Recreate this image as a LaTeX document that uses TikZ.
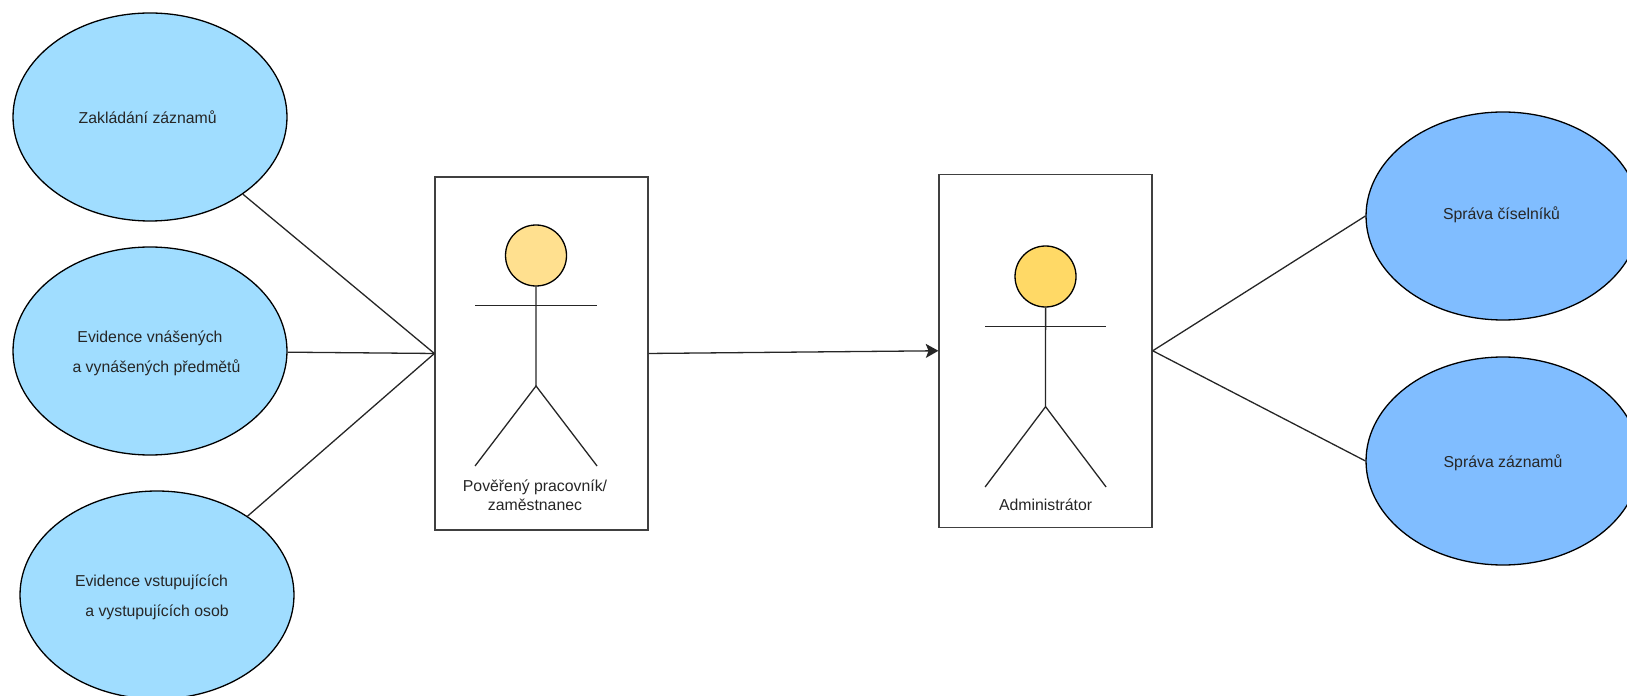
\documentclass[tikz,border=0pt]{standalone}
\usepackage{fontspec}
\setmainfont{Liberation Sans}
\usepackage{tikz}
\usetikzlibrary{arrows,arrows.meta,%
                shapes,positioning}
\definecolor{usecaseL}{HTML}{A0DDFF}
\definecolor{usecaseR}{HTML}{80BDFF}
\definecolor{headP}{HTML}{FFE08F}
\definecolor{headR}{HTML}{FFD966}
\newcommand{\lowerline}{\rule{0pt}{4.8pt}}
\tikzset{
  usecase/.style={ellipse,draw,line width=0.37pt,inner sep=0pt,align=center,text=black!85,
    minimum width=2.74cm,minimum height=2.08cm,font=\fontsize{4.5}{8.5}\selectfont},
  actorbox/.style={rectangle,draw=black!75,line width=0.37pt,minimum width=2.13cm,minimum height=3.53cm},
  head/.style={circle,draw,line width=0.37pt,minimum size=0.61cm,inner sep=0pt},
  caption/.style={inner sep=0pt,align=center,text=black!85,font=\fontsize{4.5}{5.4}\selectfont},
  link/.style={line width=0.37pt,black!85},
}

\begin{document}
\begin{tikzpicture}[scale=0.1]
\useasboundingbox (0,0) rectangle (162.7,69.5);
%use cases
\node[usecase,fill=usecaseL] (A) at (15.0,57.8) {Zakládání záznamů\hspace*{0.046cm}};
\node[usecase,fill=usecaseL] (B) at (15.0,34.4) {\lowerline Evidence vnášených\\\hspace*{0.13cm}a vynášených předmětů};
\node[usecase,fill=usecaseL] (C) at (15.7,10.0) {\lowerline Evidence vstupujících\hspace*{0.11cm}\\a vystupujících osob};
\node[usecase,fill=usecaseR] (D) at (150.3,47.9) {\raisebox{0.06cm}{Správa číselníků}\hspace*{0.03cm}};
\node[usecase,fill=usecaseR] (E) at (150.3,23.4) {\lowerline Správa záznamů};
%actor boxes
\node[actorbox] (P) at (54.15,34.15) {};
\node[actorbox] (R) at (104.55,34.42) {};
%first actor
\node[head,fill=headP] (HP) at (53.6,43.95) {};
\coordinate (HipP) at (53.6,30.9);
\coordinate (ArmPa) at (47.5,38.96);
\coordinate (ArmPb) at (59.7,38.96);
\coordinate (FootPa) at (47.5,22.9);
\coordinate (FootPb) at (59.7,22.9);
\draw[link] (HP) -- (HipP);
\draw[link] (ArmPa) -- (ArmPb);
\draw[link] (FootPa) -- (HipP) -- (FootPb);
\node[caption] (LP) at (53.5,20.0) {Pověřený pracovník/\\zaměstnanec};
%second actor
\node[head,fill=headR] (HR) at (104.55,41.85) {};
\coordinate (HipR) at (104.55,28.83);
\coordinate (ArmRa) at (98.5,36.83);
\coordinate (ArmRb) at (110.6,36.83);
\coordinate (FootRa) at (98.5,20.8);
\coordinate (FootRb) at (110.6,20.8);
\draw[link] (HR) -- (HipR);
\draw[link] (ArmRa) -- (ArmRb);
\draw[link] (FootRa) -- (HipR) -- (FootRb);
\node[caption] (LR) at (104.56,19.0) {Administrátor};
%connectors
\draw[link] (A) -- (P.west);
\draw[link] (B) -- (P.west);
\draw[link] (C) -- (P.west);
\draw[link,-{Stealth[length=3.6pt,width=4pt,inset=0.8pt]}] (P.east) -- (R.west);
\draw[link] (R.east) -- (D.west);
\draw[link] (R.east) -- (E.west);
\end{tikzpicture}
\end{document}
